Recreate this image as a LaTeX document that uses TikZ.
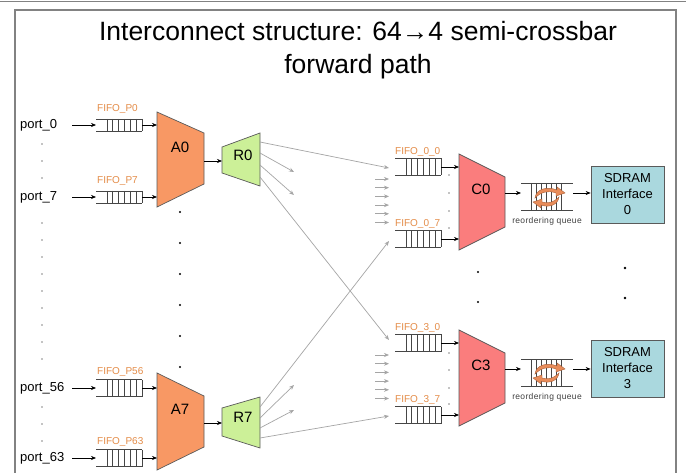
\documentclass[tikz,border=0pt]{standalone}
\usepackage{fontspec}
\setmainfont{Liberation Sans}
\usetikzlibrary{arrows.meta,calc}

\definecolor{afill}{RGB}{248,152,100}
\definecolor{rfill}{RGB}{204,240,152}
\definecolor{cfill}{RGB}{250,125,125}
\definecolor{sfill}{RGB}{170,216,222}
\definecolor{fifotxt}{RGB}{228,140,72}
\definecolor{cyc}{RGB}{232,140,90}
\definecolor{cycedge}{RGB}{170,95,55}
\definecolor{edge}{RGB}{90,90,90}
\definecolor{qgray}{RGB}{70,70,70}
\definecolor{linkgray}{RGB}{165,165,165}
\definecolor{framegray}{RGB}{130,130,130}

\tikzset{
  fifohalf/.store in=\fifohalf, fifohalf=8.5,
  arr/.style={draw=black, line width=0.6pt, -{Stealth[length=5pt,width=4pt]}},
  garr/.style={draw=linkgray, line width=0.7pt, -{Stealth[length=5pt,width=4pt]}},
  qline/.style={draw=qgray, line width=0.7pt},
  portlbl/.style={anchor=west, inner sep=0pt, font=\fontsize{13}{15}\selectfont},
  fifolbl/.style={anchor=west, inner sep=0pt, text=fifotxt, font=\fontsize{10}{12}\selectfont},
  blocklbl/.style={inner sep=0pt, font=\fontsize{15}{17}\selectfont},
  sdram/.style={draw=edge, fill=sfill, line width=0.7pt, minimum width=73pt, minimum height=57pt,
    inner sep=0pt, align=center, font=\fontsize{13}{16}\selectfont},
  dotsm/.style={fill=black, draw=none},
  swaparrow/.style={fill=cyc, draw=cycedge, line width=0.4pt},
  % FIFO: open left end, seven cells to the right
  fifoq/.pic={
    \draw[qline] (0,-\fifohalf) -- (46,-\fifohalf) (0,\fifohalf) -- (46,\fifohalf);
    \foreach \k in {0,...,6} \draw[qline] (11+\k*5.833,-\fifohalf) -- (11+\k*5.833,\fifohalf);
    \coordinate (-in) at (0,0);
    \coordinate (-out) at (46,0);
  },
  % reordering queue with the circular swap symbol
  rqueue/.pic={
    \draw[qline] (0,-10) -- (52,-10) (0,17) -- (52,17);
    \foreach \k in {0,...,6} \draw[qline] (10+\k*5,-10) -- (10+\k*5,17);
    % upper swap arrow, pointing right
    \draw[swaparrow] (14,5) .. controls (15,-4) and (26,-7) .. (36,-3)
      -- (36,-6) -- (44,0) -- (35,3) -- (35,0)
      .. controls (27,-3) and (20,-1) .. (14,5) -- cycle;
    % lower swap arrow, pointing left
    \draw[swaparrow] (38,4) .. controls (37,12) and (28,15) .. (20,12)
      -- (20,15) -- (12,9) -- (21,6) -- (21,9)
      .. controls (28,11) and (33,9) .. (38,4) -- cycle;
    \node[inner sep=0pt, text=black!75, font=\fontsize{8.5}{9}\selectfont\addfontfeature{LetterSpace=4}] (-lbl) at (26,28) {reordering queue};
    \coordinate (-in) at (0,0);
    \coordinate (-out) at (52,0);
  },
}

\begin{document}
\begin{tikzpicture}[x=1pt,y=-1pt]
\useasboundingbox (0,0) rectangle (686,473);
\fill[white] (0,0) rectangle (686,473);

% frame
\draw[framegray, line width=1.6pt] (0,1.5) -- (686,1.5);
\draw[framegray, line width=1.2pt] (15,473) -- (15,10) -- (676,10) -- (676,473);

% title
\node[align=center, inner sep=0pt, font=\fontsize{26.5}{33}\selectfont] (title) at (358,50)
  {Interconnect structure: 64→4 semi-crossbar\\forward path};

% ---------------- input ports and FIFOs ----------------
\foreach \nm/\lb/\y/\h in {P0/0/125/6, P7/7/197/6, P56/56/388/8.5, P63/63/458/8.5}{
  \node[portlbl] (port\nm) at (20,\y) {port\_\lb};
  \coordinate (src\nm) at (72,\y);
  \pic[fifohalf=\h] (q\nm) at (96,\y) {fifoq};
  \node[fifolbl] (lbl\nm) at (97,\y-16) {FIFO\_P\lb};
}

% dots between ports
\foreach \y in {144,161,178, 223,240,257,274,291,308,325,342,359, 407,424,441}
  \fill[dotsm] (42,\y) circle (0.7pt);

% first-stage muxes A0 / A7
\draw[fill=afill, draw=edge, line width=0.7pt] (157,112) -- (204,133) -- (204,184) -- (157,207) -- cycle;
\draw[fill=afill, draw=edge, line width=0.7pt] (157,373) -- (204,396) -- (204,447) -- (157,470) -- cycle;
\node[blocklbl] (A0) at (180,147) {A0};
\node[blocklbl] (A7) at (180,409) {A7};
\coordinate (A0w) at (157,160);
\coordinate (A7w) at (157,420);
\coordinate (A0e) at (204,161);
\coordinate (A7e) at (204,423);

\foreach \nm/\a in {P0/A0, P7/A0, P56/A7, P63/A7}{
  \draw[arr] (src\nm) -- (q\nm-in);
  \draw[arr] (q\nm-out) -- (q\nm-out -| \a w);
}

% dots between A0 and A7
\foreach \y in {212,243,274,305,336,367}
  \fill[dotsm] (180,\y) circle (1.1pt);

% routers R0 / R7
\draw[fill=rfill, draw=edge, line width=0.7pt] (222,147) -- (260,133) -- (260,186) -- (222,173) -- cycle;
\draw[fill=rfill, draw=edge, line width=0.7pt] (222,408) -- (260,397) -- (260,448) -- (222,436) -- cycle;
\node[blocklbl] (R0) at (243,155) {R0};
\node[blocklbl] (R7) at (243,417) {R7};
\coordinate (R0w) at (222,161);
\coordinate (R7w) at (222,423);
\draw[arr] (A0e) -- (R0w);
\draw[arr] (A7e) -- (R7w);

% router outputs
\coordinate (r0a) at (260,142); \coordinate (r0b) at (260,153);
\coordinate (r0c) at (260,165); \coordinate (r0d) at (260,177);
\coordinate (r7a) at (260,407); \coordinate (r7b) at (260,418);
\coordinate (r7c) at (260,428); \coordinate (r7d) at (260,438);
\coordinate (t00) at (389,168); \coordinate (t07) at (389,241);
\coordinate (t30) at (389,340); \coordinate (t37) at (389,416);
\coordinate (s0b) at (294,172); \coordinate (s0c) at (294,195);
\coordinate (s7b) at (294,385); \coordinate (s7c) at (294,410);
\draw[garr] (r0a) -- (t00);
\draw[garr] (r0b) -- (s0b);
\draw[garr] (r0c) -- (s0c);
\draw[garr] (r0d) -- (t30);
\draw[garr] (r7a) -- (t07);
\draw[garr] (r7b) -- (s7b);
\draw[garr] (r7c) -- (s7c);
\draw[garr] (r7d) -- (t37);

% ---------------- crossbar FIFOs ----------------
\foreach \nm/\lb/\y in {F00/0\_0/167, F07/0\_7/239, F30/3\_0/343, F37/3\_7/415}{
  \pic (q\nm) at (395,\y) {fifoq};
  \node[fifolbl] (lbl\nm) at (395,\y-15) {FIFO\_\lb};
}

% incoming stubs from the other routers
\foreach \y in {179,187.7,196.4,205.1,213.8,222.5}{
  \draw[garr] (375,\y) -- (389,\y);
  \draw[garr] (375,\y+176) -- (389,\y+176);
}

% dots between crossbar FIFOs
\foreach \y in {175,193,211,228, 353,370,388,404}
  \fill[dotsm] (449,\y) circle (0.7pt);

% output muxes C0 / C3
\draw[fill=cfill, draw=edge, line width=0.7pt] (459,154) -- (505,177) -- (505,227) -- (459,250) -- cycle;
\draw[fill=cfill, draw=edge, line width=0.7pt] (459,330) -- (505,353) -- (505,403) -- (459,426) -- cycle;
\node[blocklbl] (C0) at (481,189) {C0};
\node[blocklbl] (C3) at (481,365) {C3};
\coordinate (C0w) at (459,200);
\coordinate (C3w) at (459,376);
\coordinate (C0e) at (505,193);
\coordinate (C3e) at (505,369);

\foreach \nm/\c in {F00/C0, F07/C0, F30/C3, F37/C3}
  \draw[arr] (q\nm-out) -- (q\nm-out -| \c w);

% reordering queues and SDRAM interfaces
\pic (rq0) at (521,193) {rqueue};
\pic (rq3) at (521,369) {rqueue};
\node[sdram] (S0) at (627.5,194.5) {SDRAM\\Interface\\0};
\node[sdram] (S3) at (627.5,368.5) {SDRAM\\Interface\\3};
\draw[arr] (C0e) -- (rq0-in);
\draw[arr] (C3e) -- (rq3-in);
\draw[arr] (rq0-out) -- (rq0-out -| S0.west);
\draw[arr] (rq3-out) -- (rq3-out -| S3.west);

% dots between the two output channels
\foreach \y in {272,302}{
  \fill[dotsm] (478,\y) circle (1.1pt);
  \fill[dotsm] (625,\y-4) circle (1.3pt);
}
\end{tikzpicture}
\end{document}
